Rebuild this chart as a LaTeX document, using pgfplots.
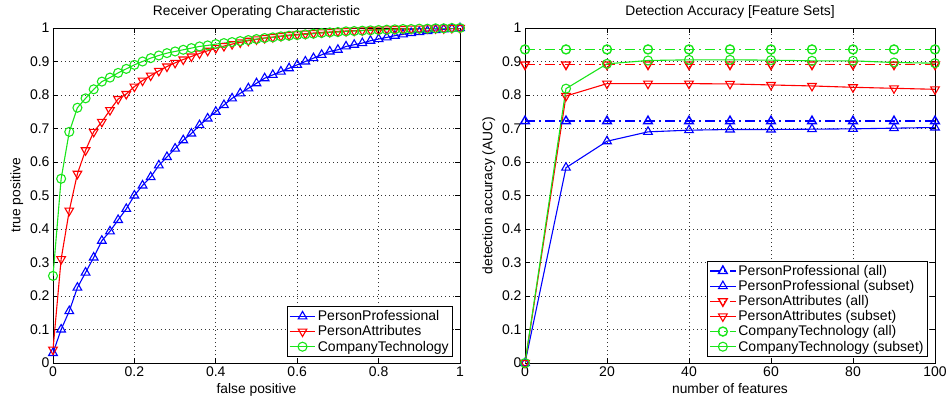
\documentclass[border=0pt]{standalone}
\usepackage{fontspec}
\setmainfont{Liberation Sans}
\usepackage{pgfplots}
\pgfplotsset{compat=1.18}

\definecolor{mblue}{rgb}{0,0,1}
\definecolor{mred}{rgb}{1,0,0}
\definecolor{mgreen}{rgb}{0.1,0.9,0.1}

\pgfplotsset{
  matlab/.style={
    scale only axis, height=335pt, ymin=0, ymax=1,
    ytick={0,0.1,...,1},
    axis line style={line width=0.9pt},
    tick align=inside, major tick length=5pt,
    tick style={line width=0.7pt, black},
    grid=major,
    major grid style={black!80, dash pattern=on 1pt off 3pt, line width=0.7pt},
    tick label style={font=\fontsize{14}{16}\selectfont},
    label style={font=\fontsize{13.8}{16}\selectfont},
    title style={font=\fontsize{13.8}{16}\selectfont},
    /pgf/number format/assume math mode=true,
    legend cell align=left,
    legend style={font=\fontsize{14}{16}\selectfont, draw=black, line width=0.9pt,
      inner sep=2pt, row sep=-0.5pt},
    legend image code/.code={\draw[mark repeat=2,mark phase=2,##1]
      plot coordinates {(0cm,0cm) (0.45cm,0cm) (0.9cm,0cm)};},
    every axis plot/.append style={line width=1.1pt},
  },
  pp/.style={mblue, mark=triangle, mark size=5pt, mark options={solid}},
  pa/.style={mred, mark=triangle, mark size=5pt, mark options={solid, rotate=180}},
  ct/.style={mgreen, mark=o, mark size=4.5pt, mark options={solid}},
  dd/.style={line width=1.4pt, dash pattern=on 10pt off 4pt on 2pt off 4pt},
}

\begin{document}
\begin{tikzpicture}
\path[use as bounding box] (-53pt,-37pt) rectangle (893pt,363pt);

% ROC
\begin{axis}[matlab, width=407pt, at={(0pt,0pt)}, anchor=south west,
  xmin=0, xmax=1, xtick={0,0.2,...,1},
  title={Receiver Operating Characteristic},
  xlabel={false positive}, ylabel={true positive},
  legend style={at={(0.983,0.018)}, anchor=south east}]
\addplot[pp] coordinates {
(0,0.03) (0.02,0.10) (0.04,0.155) (0.06,0.225) (0.08,0.27) (0.10,0.315)
(0.12,0.365) (0.14,0.393) (0.16,0.427) (0.18,0.46) (0.20,0.50) (0.22,0.53)
(0.24,0.555) (0.26,0.59) (0.28,0.615) (0.30,0.64) (0.32,0.665) (0.34,0.685)
(0.36,0.71) (0.38,0.73) (0.40,0.75) (0.42,0.77) (0.44,0.79) (0.46,0.805)
(0.48,0.82) (0.50,0.835) (0.52,0.85) (0.54,0.86) (0.56,0.87) (0.58,0.88)
(0.60,0.89) (0.62,0.90) (0.64,0.91) (0.66,0.92) (0.68,0.93) (0.70,0.935)
(0.72,0.945) (0.74,0.95) (0.76,0.955) (0.78,0.962) (0.80,0.967) (0.82,0.972)
(0.84,0.977) (0.86,0.981) (0.88,0.985) (0.90,0.988) (0.92,0.991) (0.94,0.994)
(0.96,0.996) (0.98,0.998) (1.00,1.0)};
\addlegendentry{PersonProfessional}
\addplot[pa] coordinates {
(0,0.04) (0.02,0.31) (0.04,0.455) (0.06,0.565) (0.08,0.635) (0.10,0.69)
(0.12,0.72) (0.14,0.755) (0.16,0.788) (0.18,0.803) (0.20,0.825) (0.22,0.843)
(0.24,0.858) (0.26,0.872) (0.28,0.885) (0.30,0.896) (0.32,0.906) (0.34,0.915)
(0.36,0.924) (0.38,0.932) (0.40,0.94) (0.42,0.946) (0.44,0.952) (0.46,0.957)
(0.48,0.962) (0.50,0.966) (0.52,0.97) (0.54,0.973) (0.56,0.976) (0.58,0.979)
(0.60,0.981) (0.62,0.983) (0.64,0.985) (0.66,0.987) (0.68,0.988) (0.70,0.99)
(0.72,0.991) (0.74,0.992) (0.76,0.993) (0.78,0.994) (0.80,0.995) (0.82,0.996)
(0.84,0.997) (0.86,0.997) (0.88,0.998) (0.90,0.998) (0.92,0.999) (0.94,0.999)
(0.96,0.999) (0.98,1.0) (1.00,1.0)};
\addlegendentry{PersonAttributes}
\addplot[ct] coordinates {
(0,0.26) (0.02,0.55) (0.04,0.69) (0.06,0.762) (0.08,0.79) (0.10,0.817)
(0.12,0.84) (0.14,0.852) (0.16,0.866) (0.18,0.878) (0.20,0.89) (0.22,0.90)
(0.24,0.91) (0.26,0.918) (0.28,0.925) (0.30,0.93) (0.32,0.935) (0.34,0.94)
(0.36,0.945) (0.38,0.948) (0.40,0.952) (0.42,0.955) (0.44,0.958) (0.46,0.961)
(0.48,0.964) (0.50,0.967) (0.52,0.97) (0.54,0.972) (0.56,0.975) (0.58,0.977)
(0.60,0.979) (0.62,0.981) (0.64,0.983) (0.66,0.985) (0.68,0.987) (0.70,0.988)
(0.72,0.99) (0.74,0.991) (0.76,0.992) (0.78,0.993) (0.80,0.994) (0.82,0.995)
(0.84,0.996) (0.86,0.997) (0.88,0.997) (0.90,0.998) (0.92,0.998) (0.94,0.999)
(0.96,0.999) (0.98,1.0) (1.00,1.0)};
\addlegendentry{CompanyTechnology}
\end{axis}

% detection accuracy
\begin{axis}[matlab, width=410pt, at={(472pt,0pt)}, anchor=south west,
  xmin=0, xmax=100, xtick={0,20,...,100},
  title={Detection Accuracy [Feature Sets]},
  xlabel={number of features}, ylabel={detection accuracy (AUC)},
  legend style={at={(0.983,0.018)}, anchor=south east}]
\addplot[pp, dd] coordinates {
(0,0.722) (10,0.722) (20,0.722) (30,0.722) (40,0.722) (50,0.722)
(60,0.722) (70,0.722) (80,0.722) (90,0.722) (100,0.722)};
\addlegendentry{PersonProfessional (all)}
\addplot[pp] coordinates {
(0,0) (10,0.583) (20,0.662) (30,0.69) (40,0.695) (50,0.697)
(60,0.697) (70,0.698) (80,0.699) (90,0.701) (100,0.703)};
\addlegendentry{PersonProfessional (subset)}
\addplot[pa, dd] coordinates {
(0,0.891) (10,0.891) (20,0.891) (30,0.891) (40,0.891) (50,0.891)
(60,0.891) (70,0.891) (80,0.891) (90,0.891) (100,0.891)};
\addlegendentry{PersonAttributes (all)}
\addplot[pa] coordinates {
(0,0) (10,0.797) (20,0.834) (30,0.834) (40,0.834) (50,0.833)
(60,0.83) (70,0.827) (80,0.823) (90,0.82) (100,0.817)};
\addlegendentry{PersonAttributes (subset)}
\addplot[ct, dd] coordinates {
(0,0.936) (10,0.936) (20,0.936) (30,0.936) (40,0.936) (50,0.936)
(60,0.936) (70,0.936) (80,0.936) (90,0.936) (100,0.936)};
\addlegendentry{CompanyTechnology (all)}
\addplot[ct] coordinates {
(0,0) (10,0.819) (20,0.893) (30,0.903) (40,0.905) (50,0.905)
(60,0.904) (70,0.902) (80,0.902) (90,0.897) (100,0.895)};
\addlegendentry{CompanyTechnology (subset)}
\end{axis}
\end{tikzpicture}
\end{document}
